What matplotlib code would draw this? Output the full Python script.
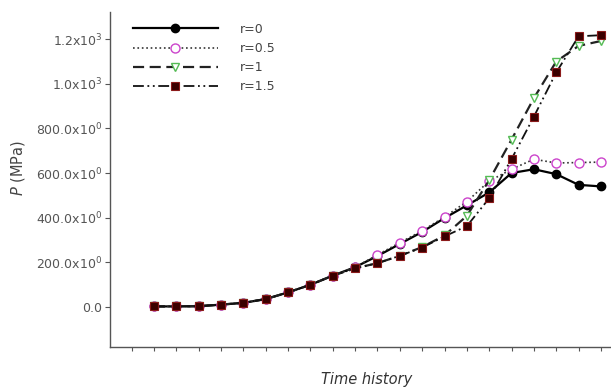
import matplotlib
matplotlib.use('Agg')
import matplotlib.pyplot as plt
import numpy as np

plt.rcParams['font.family'] = ['DejaVu Sans']
plt.rcParams['mathtext.fontset'] = 'dejavusans'

# Data
steps = list(range(21))
p_r0 = [2, 2, 3, 10, 18, 35, 65, 99, 140, 178, 228, 282, 336, 398, 455, 513, 600, 617, 595, 547, 540]
p_r05 = [2, 2, 3, 10, 18, 35, 65, 99, 140, 178, 233, 288, 341, 403, 472, 564, 617, 662, 645, 647, 649]
p_r1 = [2, 2, 3, 10, 18, 35, 65, 99, 140, 173, 196, 229, 268, 320, 408, 568, 750, 936, 1100, 1170, 1192]
p_r15 = [2, 2, 3, 10, 18, 35, 65, 99, 140, 173, 196, 229, 266, 316, 362, 487, 663, 853, 1051, 1213, 1218]

ytick_vals = [0, 200, 400, 600, 800, 1000, 1200]
ytick_labels = ['0.0', '200.0x10$^0$', '400.0x10$^0$', '600.0x10$^0$',
                '800.0x10$^0$', '1.0x10$^3$', '1.2x10$^3$']
xtick_vals = list(range(-1, 21))

fig = plt.figure(figsize=(6.11, 3.89), dpi=100)
ax = fig.add_axes([110 / 611, 1 - 347 / 389, 501 / 611, 335 / 389])

ax.plot(steps, p_r0, '-', color='black', lw=1.6, marker='o', ms=6,
        mfc='black', mec='black', label='r=0')
ax.plot(steps, p_r05, ':', color='#333333', lw=1.2, marker='o', ms=6.5,
        mfc='white', mec='#cc44cc', mew=1.0, label='r=0.5')
ax.plot(steps, p_r1, '--', color='#222222', lw=1.6, dashes=(5, 2.5), marker='v', ms=6,
        mfc='white', mec='#55bb55', mew=1.0, label='r=1')
ax.plot(steps, p_r15, color='#111111', lw=1.3, dashes=(6, 2, 1, 2, 1, 2), marker='s', ms=6,
        mfc='#3a0000', mec='#8b1a1a', mew=0.8, label='r=1.5')

ax.set_xlim(-1.97, 20.45)
ax.set_ylim(-180, 1322)
ax.set_xticks(xtick_vals)
ax.set_xticklabels([])
ax.set_yticks(ytick_vals)
ax.set_yticklabels(ytick_labels, fontsize=9, color='#555555')

ax.tick_params(axis='both', direction='out', length=3.5, width=0.8, color='#555555', pad=2)
ax.tick_params(axis='x', length=3)
ax.spines['top'].set_visible(False)
ax.spines['right'].set_visible(False)
for s in ['left', 'bottom']:
    ax.spines[s].set_color('#555555')
    ax.spines[s].set_linewidth(1.0)

ax.set_ylabel('$P$ (MPa)', fontsize=10.5, color='#444444')
ax.yaxis.set_label_coords(-0.166, 0.534)
ax.set_xlabel('Time history', fontsize=10.5, style='italic', color='#333333')
ax.xaxis.set_label_coords(0.513, -0.075)

ax.legend(loc='upper left', bbox_to_anchor=(0.035, 0.983), frameon=False,
          fontsize=9, handlelength=6.8, handletextpad=1.75, labelspacing=0.5,
          borderaxespad=0, labelcolor='#444444')

fig.savefig('out.png', dpi=100)
